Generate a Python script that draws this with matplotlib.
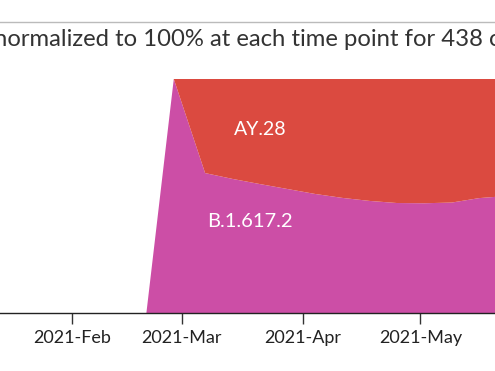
import matplotlib
matplotlib.use("Agg")
import matplotlib.pyplot as plt
from matplotlib.lines import Line2D
import pandas as pd

plt.rcParams['font.family'] = ['Lato', 'DejaVu Sans']

dates = pd.to_datetime([
    "2021-02-20", "2021-02-27", "2021-03-07", "2021-03-14", "2021-03-21",
    "2021-03-28", "2021-04-04", "2021-04-11", "2021-04-18", "2021-04-25",
    "2021-05-02", "2021-05-09", "2021-05-16", "2021-05-23",
])
b16172 = [0.0, 1.0, 0.598, 0.573, 0.551, 0.530, 0.509, 0.492, 0.479, 0.470,
          0.469, 0.472, 0.491, 0.50]
ay28 = [0.0, 0.0, 0.402, 0.427, 0.449, 0.470, 0.491, 0.508, 0.521, 0.530,
        0.531, 0.528, 0.509, 0.50]
series_names = ["B.1.617.2", "AY.28"]
colors = ["#CC4EA6", "#DB4A40"]
tick_dates = pd.to_datetime(["2021-02-01", "2021-03-01", "2021-04-01", "2021-05-01"])
tick_labels = ["2021-Feb", "2021-Mar", "2021-Apr", "2021-May"]
title = "normalized to 100% at each time point for 438 cases"

W, H = 495, 371
fig = plt.figure(figsize=(W / 100, H / 100), dpi=100)
ax = fig.add_axes([0, (H - 313) / H, 1, 234 / H])

ax.stackplot(dates, b16172, ay28, colors=colors, linewidth=0)

x0 = pd.Timestamp("2021-02-01") - pd.Timedelta(days=72 / 3.915)
x1 = pd.Timestamp("2021-02-01") + pd.Timedelta(days=(495 - 72) / 3.915)
ax.set_xlim(x0, x1)
ax.set_ylim(0, 1)

ax.set_xticks(tick_dates)
ax.set_xticklabels(tick_labels)
ax.tick_params(axis='x', length=8, width=1, color='#333333', labelsize=13,
               labelcolor='#222222', pad=4)
ax.set_yticks([])
for s in ["top", "right", "left"]:
    ax.spines[s].set_visible(False)
ax.spines["bottom"].set_color('#222222')
ax.spines["bottom"].set_linewidth(1)

ax.text(pd.Timestamp("2021-03-21"), 0.79, series_names[1], color='white',
        fontsize=14, ha='center', va='center_baseline')
ax.text(pd.Timestamp("2021-03-18 10:00"), 0.397, series_names[0], color='white',
        fontsize=14.5, ha='center', va='center_baseline')

fig.add_artist(Line2D([0, 1], [1 - 22 / H, 1 - 22 / H], color='#bbbbbb', lw=1))
fig.text(-6 / W, 1 - 38 / H, title, fontsize=17.2, color='#333333',
         ha='left', va='center_baseline')

fig.savefig("out.png", dpi=100)
